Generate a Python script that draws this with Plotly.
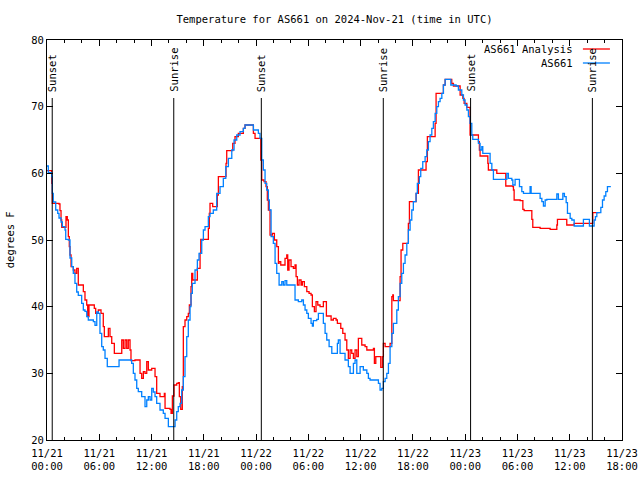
import plotly.graph_objects as go

# Hours since 2024-11-21 00:00 UTC
obs_hours = [0.0, 0.15, 0.54, 0.61, 0.72, 1.0, 1.23, 1.38, 1.61, 1.76, 2.07, 2.15, 2.45, 2.64, 2.84, 3.02,
             3.21, 3.41, 3.59, 3.98, 4.17, 4.36, 4.56, 4.74, 5.32, 5.51, 5.71, 5.89, 6.08, 6.28, 6.46, 6.66,
             6.92, 8.19, 8.27, 9.53, 9.72, 9.91, 10.1, 10.3, 10.48, 10.87, 11.25, 11.45, 11.63, 11.83, 12.02,
             12.2, 12.4, 12.59, 12.97, 13.35, 13.55, 13.93, 14.58, 14.7, 14.89, 15.07, 15.27, 15.46, 15.65,
             15.84, 16.04, 16.22, 16.42, 16.53, 16.68, 16.99, 17.26, 17.45, 17.76, 17.95, 18.14, 18.52, 18.71,
             19.09, 19.48, 19.86, 20.24, 20.52, 20.82, 21.21, 21.47, 21.78, 22.16, 22.54, 22.73, 23.5, 23.69,
             24.26, 24.45, 24.65, 24.83, 25.03, 25.22, 25.41, 25.52, 25.72, 25.98, 26.18, 26.37, 26.64, 26.95,
             27.13, 27.32, 27.52, 28.28, 28.47, 28.85, 29.24, 29.43, 29.62, 29.82, 30.0, 30.31, 30.46, 30.57,
             30.96, 31.15, 31.46, 31.72, 31.92, 32.11, 32.38, 32.69, 33.07, 33.33, 33.44, 33.64, 34.21, 34.59,
             34.79, 35.17, 35.36, 35.56, 35.94, 36.31, 36.71, 36.89, 37.08, 37.85, 38.04, 38.23, 38.43, 38.61,
             38.81, 39.0, 39.19, 39.38, 39.58, 39.76, 40.15, 40.33, 40.53, 40.72, 40.91, 41.1, 41.3, 41.48,
             41.68, 41.87, 42.05, 42.36, 42.51, 42.74, 42.9, 43.13, 43.4, 43.59, 43.78, 43.97, 44.17, 44.35,
             44.55, 44.74, 44.93, 45.12, 45.32, 45.5, 45.7, 46.19, 46.35, 46.96, 47.22, 47.61, 47.8, 47.99,
             48.19, 48.37, 48.56, 48.76, 48.87, 49.33, 49.52, 49.71, 49.91, 50.02, 50.67, 50.86, 51.06, 51.24,
             52.58, 52.78, 52.96, 53.35, 53.47, 53.73, 54.0, 54.23, 54.5, 54.69, 55.26, 55.45, 55.57, 56.41,
             56.6, 56.8, 56.98, 57.18, 57.37, 58.32, 58.52, 58.7, 58.98, 59.21, 59.39, 59.59, 59.74, 60.05,
             60.24, 60.51, 61.39, 61.57, 62.15, 62.26, 62.65, 62.8, 62.95, 63.11, 63.41, 63.57, 63.76, 63.95,
             64.14, 64.33, 64.72]
obs_temps = [61.1, 60.1, 59.5, 57.0, 55.7, 54.5, 54.0, 53.3, 52.7, 52.0, 51.5, 50.1, 50.0, 47.3, 46.0, 45.0,
             43.5, 42.2, 41.7, 40.5, 39.5, 39.3, 38.5, 38.0, 37.75, 37.2, 39.2, 39.0, 36.0, 34.0, 33.5, 32.25,
             31.0, 31.0, 32.0, 32.0, 31.5, 30.0, 29.0, 27.75, 27.25, 26.5, 25.0, 26.0, 26.5, 26.0, 27.75,
             27.2, 26.5, 25.5, 24.5, 24.0, 23.25, 22.0, 22.0, 23.0, 24.25, 25.0, 25.5, 27.5, 29.5,
             32.5, 35.5, 38.0, 40.0, 42.0, 43.5, 45.5, 47.0, 48.0, 50.0, 51.5, 52.0, 53.5, 54.0,
             54.5, 57.0, 58.0, 59.25, 61.0, 62.25, 63.5, 65.0, 65.75, 66.25, 66.75, 67.25, 67.25, 66.5,
             66.0, 65.25, 62.0, 60.5, 58.5, 57.5, 56.0, 54.5, 50.5, 49.5, 46.5, 45.0, 43.25, 43.75,
             43.25, 43.9, 43.25, 43.25, 41.0, 40.75, 41.0, 40.25, 39.5, 39.0, 38.25, 37.5, 37.1, 37.9,
             38.1, 39.0, 39.0, 37.5, 36.0, 35.0, 34.0, 33.0, 33.0, 34.5, 35.0, 33.0, 32.0, 31.0,
             30.0, 31.5, 32.0, 30.0, 31.0, 30.5, 30.0, 29.25, 29.0, 29.0, 28.5, 27.5, 27.75, 28.75,
             29.25, 30.0, 31.5, 34.0, 36.0, 37.5, 39.5, 41.5, 43.5, 45.0, 46.5, 47.75, 49.5, 51.5,
             53.0, 54.5, 55.75, 57.0, 58.5, 59.5, 60.75, 61.75, 62.5, 63.5, 64.75, 65.75, 66.75, 67.75,
             69.0, 70.0, 70.75, 71.25, 72.0, 73.25, 74.1, 74.1, 73.25, 73.1, 72.5, 71.75, 71.0, 70.25,
             69.5, 68.5, 67.5, 65.75, 65.1, 65.1, 64.5, 63.5, 64.0, 63.0, 63.0, 61.5, 60.5, 59.1,
             59.1, 60.0, 59.25, 59.0, 58.25, 59.1, 59.1, 58.0, 57.25, 57.0, 57.0, 58.0, 57.0, 57.0,
             56.25, 55.75, 55.1, 56.0, 56.1, 56.1, 56.9, 56.1, 56.1, 57.0, 56.5, 55.6, 54.0, 53.25,
             53.0, 52.1, 52.1, 53.1, 53.1, 52.1, 52.1, 53.0, 53.5, 54.1, 54.1, 54.9, 56.0, 56.6,
             57.25, 58.0, 58.0]

ana_hours = [0.0, 0.46, 0.54, 0.61, 1.38, 1.49, 1.61, 1.69, 2.07, 2.18, 2.33, 2.45, 2.56, 2.64, 2.76, 3.02,
             3.21, 3.41, 3.59, 4.05, 4.17, 4.36, 4.56, 4.67, 4.82, 5.32, 5.43, 5.59, 5.89, 6.2, 6.46, 6.58,
             6.85, 7.04, 7.23, 7.43, 7.73, 8.38, 8.58, 8.76, 8.96, 9.15, 9.33, 9.53, 9.64, 10.1, 10.41, 10.68,
             10.87, 11.06, 11.25, 11.45, 11.63, 12.02, 12.2, 12.4, 12.59, 12.97, 13.47, 13.55, 14.12, 14.24,
             14.39, 14.58, 14.89, 15.07, 15.19, 15.35, 15.47, 15.53, 15.65, 15.84, 16.04, 16.22, 16.34, 16.53,
             16.61, 16.73, 17.19, 17.26, 17.49, 17.57, 17.65, 18.45, 18.52, 18.63, 18.71, 19.02, 19.4, 19.55,
             19.67, 20.44, 20.55, 20.63, 21.21, 21.32, 21.58, 21.96, 22.54, 22.73, 23.5, 23.69, 23.88, 24.45,
             24.54, 24.65, 24.91, 25.14, 25.29, 25.41, 25.6, 25.87, 26.1, 26.37, 26.56, 26.64, 26.83, 27.13,
             27.32, 27.52, 27.63, 27.78, 28.01, 28.28, 28.47, 28.59, 28.74, 28.93, 29.16, 29.31, 29.54, 29.82,
             30.08, 30.31, 30.46, 30.69, 30.88, 31.08, 31.34, 31.72, 31.92, 32.07, 32.38, 32.61, 32.87, 33.18,
             33.33, 33.72, 33.95, 34.21, 34.41, 34.59, 34.79, 34.98, 35.17, 35.36, 35.56, 35.74, 36.01, 36.13,
             36.51, 36.71, 37.28, 37.47, 37.58, 37.74, 38.12, 38.31, 38.5, 38.61, 38.81, 39.19, 39.38, 39.58,
             39.69, 39.76, 40.41, 40.53, 40.64, 40.84, 41.37, 41.48, 41.6, 42.25, 42.37, 42.63, 43.2, 43.51,
             43.66, 44.43, 44.55, 44.66, 45.32, 45.5, 45.7, 46.35, 46.46, 46.65, 47.22, 47.42, 47.73, 47.88,
             48.19, 48.48, 48.56, 49.33, 49.52, 49.63, 49.71, 50.48, 50.6, 50.66, 51.54, 51.63, 52.58, 52.66,
             53.47, 53.54, 53.62, 54.31, 54.62, 54.77, 55.45, 55.65, 55.76, 56.41, 56.6, 57.56, 57.75, 58.44,
             58.52, 58.59, 59.59, 59.66, 60.35, 60.51, 62.53, 62.65, 63.41]
ana_temps = [60.4, 60.4, 58.5, 55.5, 55.4, 54.4, 53.0, 51.9, 51.9, 53.5, 53.0, 50.5, 49.0, 47.75, 46.0, 45.5,
             45.0, 45.75, 43.25, 43.25, 42.25, 41.0, 40.25, 38.5, 40.25, 40.25, 39.75, 39.0, 39.5, 39.0, 37.0, 35.5,
             35.5, 36.75, 35.5, 34.5, 33.0, 33.0, 35.0, 33.75, 35.0, 33.75, 35.0, 33.5, 31.9, 32.0, 32.0, 30.0,
             29.25, 30.25, 30.0, 31.75, 30.5, 30.75, 30.75, 29.5, 27.0, 26.5, 27.0, 24.75, 24.6, 24.0,
             26.6, 28.25, 28.5, 28.6, 26.5, 24.6, 24.6, 28.0, 37.0, 38.0, 38.5, 39.0, 40.25, 43.0,
             45.0, 44.0, 44.0, 45.75, 45.75, 48.0, 50.1, 50.1, 51.75, 54.0, 55.5, 55.0, 55.0, 56.75,
             59.5, 59.5, 61.5, 63.4, 63.4, 64.5, 65.5, 66.0, 66.75, 67.25, 67.25, 66.0, 65.25, 65.25,
             62.0, 59.0, 58.75, 58.0, 56.0, 54.5, 50.75, 51.0, 50.0, 49.0, 46.5, 46.75, 46.25, 46.25,
             47.25, 47.75, 45.5, 47.0, 46.0, 45.75, 46.25, 44.5, 43.25, 44.0, 43.25, 43.75, 43.0, 42.25,
             42.0, 41.75, 40.0, 39.25, 40.75, 40.25, 40.0, 40.75, 40.75, 38.6, 38.6, 38.0, 38.25, 38.0,
             37.5, 36.75, 36.0, 35.0, 33.5, 32.25, 33.5, 33.0, 32.25, 33.5, 32.5, 35.25, 35.25, 34.25,
             34.0, 33.5, 33.5, 33.75, 31.5, 32.5, 32.5, 30.9, 32.5, 34.5, 34.0, 34.0, 34.5, 41.5,
             41.75, 40.9, 40.9, 44.5, 48.5, 49.5, 49.5, 52.5, 55.75, 55.75, 57.0, 60.5, 60.5, 61.75,
             65.5, 65.5, 67.5, 72.0, 72.0, 73.25, 74.1, 74.1, 73.5, 73.1, 73.1, 71.75, 71.25, 70.5,
             69.9, 69.9, 65.75, 65.75, 64.75, 63.5, 62.6, 62.6, 61.5, 60.5, 60.5, 60.0, 60.0, 58.1,
             58.0, 57.5, 56.0, 55.9, 54.6, 54.4, 54.4, 53.1, 51.9, 51.9, 51.75, 51.75, 51.6, 51.6,
             52.25, 53.1, 53.1, 52.25, 52.25, 52.5, 52.5, 54.1, 54.1]

sun_hours = [0.6, 14.55, 24.6, 38.6, 48.62, 62.6]
sun_labels = ["Sunset", "Sunrise", "Sunset", "Sunrise", "Sunset", "Sunrise"]

tick_hours = [0, 6, 12, 18, 24, 30, 36, 42, 48, 54, 60, 66]
tick_labels = ["11/21<br>00:00", "11/21<br>06:00", "11/21<br>12:00", "11/21<br>18:00",
               "11/22<br>00:00", "11/22<br>06:00", "11/22<br>12:00", "11/22<br>18:00",
               "11/23<br>00:00", "11/23<br>06:00", "11/23<br>12:00", "11/23<br>18:00"]

series_names = ["AS661 Analysis", "AS661"]
series_colors = ["#ff0000", "#0080ff"]

FONT = "DejaVu Sans Mono"
FS = 10.5
fig = go.Figure()
fig.add_trace(go.Scatter(x=ana_hours, y=ana_temps, mode="lines", line_shape="hv",
                         line=dict(color=series_colors[0], width=1.3), name=series_names[0]))
fig.add_trace(go.Scatter(x=obs_hours, y=obs_temps, mode="lines", line_shape="hv",
                         line=dict(color=series_colors[1], width=1.3), name=series_names[1]))

shapes = []
annotations = []
for h, lab in zip(sun_hours, sun_labels):
    shapes.append(dict(type="line", xref="x", yref="paper", x0=h, x1=h, y0=0, y1=0.855,
                       line=dict(color="black", width=1)))
    annotations.append(dict(x=h, y=0.865, xref="x", yref="paper", text=lab, textangle=-90,
                            showarrow=False, xanchor="center", yanchor="bottom",
                            font=dict(family=FONT, size=FS, color="black")))

# legend (gnuplot style: text right-aligned, sample to the right)
leg_y = [0.9775, 0.9425]
for name, col, yy in zip(series_names, series_colors, leg_y):
    annotations.append(dict(x=0.918, y=yy, xref="paper", yref="paper", text=name, showarrow=False,
                            xanchor="right", yanchor="middle",
                            font=dict(family=FONT, size=FS, color="black")))
    shapes.append(dict(type="line", xref="paper", yref="paper", x0=0.932, x1=0.979, y0=yy, y1=yy,
                       line=dict(color=col, width=1.3)))

annotations.append(dict(x=-0.064, y=0.5, xref="paper", yref="paper", text="degrees F", textangle=-90,
                        showarrow=False, xanchor="center", yanchor="middle",
                        font=dict(family=FONT, size=FS, color="black")))

fig.update_layout(
    width=640, height=480,
    margin=dict(l=47, r=18, t=40, b=40, autoexpand=False),
    paper_bgcolor="white", plot_bgcolor="white",
    showlegend=False,
    title=dict(text="Temperature for AS661 on 2024-Nov-21 (time in UTC)", x=0.5, xref="paper",
               y=1 - 19 / 480, yanchor="middle", font=dict(family=FONT, size=FS, color="black")),
    font=dict(family=FONT, size=FS, color="black"),
    shapes=shapes, annotations=annotations,
)
fig.update_xaxes(range=[0, 66], tickvals=tick_hours, ticktext=tick_labels, ticks="inside", ticklen=6,
                 tickcolor="black", showline=True, linecolor="black", linewidth=1, mirror="ticks",
                 showgrid=False, zeroline=False, automargin=False, ticklabelstandoff=3,
                 minor=dict(dtick=2, tick0=0, ticks="inside", ticklen=3, tickcolor="black", showgrid=False))
fig.update_yaxes(range=[20, 80], dtick=10, ticks="inside", ticklen=6, tickcolor="black",
                 showline=True, linecolor="black", linewidth=1, mirror="ticks",
                 showgrid=False, zeroline=False, automargin=False)

fig.write_html("out.html", config={"displayModeBar": False},
               post_script="document.body.style.margin='0px';document.body.style.overflow='hidden';")
